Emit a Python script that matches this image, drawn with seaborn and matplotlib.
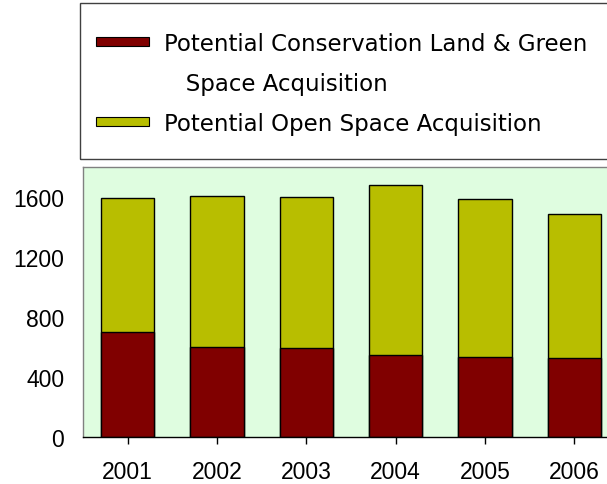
import matplotlib
matplotlib.use("Agg")
import matplotlib.pyplot as plt
import matplotlib.patches as mpatches
import seaborn as sns

years = ["2001", "2002", "2003", "2004", "2005", "2006"]
conservation = [700, 600, 595, 548, 531, 526]
open_space = [896, 1009, 1007, 1132, 1053, 958]
labels = ["Potential Conservation Land & Green", "   Space Acquisition",
          "Potential Open Space Acquisition"]

red = "#800000"
olive = "#B8BE00"

totals = [c + o for c, o in zip(conservation, open_space)]

sns.set_style("ticks")
plt.rcParams["font.family"] = ["Liberation Sans", "DejaVu Sans"]
plt.rcParams["text.color"] = "black"

fig = plt.figure(figsize=(6.07, 4.85), dpi=100)
ax = fig.add_axes([83 / 607, 1 - 437.7 / 485, 536 / 607, 269.7 / 485])
ax.set_facecolor("#DFFDE0")

# stacked bars: total (olive) behind, conservation (red) in front
sns.barplot(x=years, y=totals, color=olive, saturation=1, width=0.6,
            edgecolor="black", linewidth=1, ax=ax)
sns.barplot(x=years, y=conservation, color=red, saturation=1, width=0.6,
            edgecolor="black", linewidth=1, ax=ax)

ax.set_xlim(-0.5, 5.5)
ax.set_ylim(0, 1800)
ax.set_yticks([0, 400, 800, 1200, 1600])
ax.set_xlabel("")
ax.set_ylabel("")
ax.tick_params(axis="y", length=0, pad=13.5, labelsize=16.5, labelcolor="black")
ax.tick_params(axis="x", length=5, width=1, direction="out", pad=11.5,
               labelsize=16.5, labelcolor="black", color="black")
for s in ["left", "top", "right"]:
    ax.spines[s].set_color("#808080")
    ax.spines[s].set_linewidth(1)
ax.spines["bottom"].set_color("black")
ax.spines["bottom"].set_linewidth(1)

# legend box
fig.add_artist(mpatches.Rectangle((79.5 / 607, 1 - 160 / 485), 1, 156.5 / 485,
                                  transform=fig.transFigure, fill=False,
                                  edgecolor="#404040", linewidth=1))
h1 = mpatches.Patch(facecolor=red, edgecolor="black", linewidth=0.8)
blank = mpatches.Patch(facecolor="none", edgecolor="none")
h2 = mpatches.Patch(facecolor=olive, edgecolor="black", linewidth=0.8)
fig.legend([h1, blank, h2], labels, loc="upper left",
           bbox_to_anchor=(96 / 607, 1 - 33 / 485), frameon=False,
           prop={"family": "DejaVu Sans", "size": 16.5},
           handlelength=2.3, handleheight=0.22, handletextpad=0.68,
           labelspacing=0.74, borderpad=0, borderaxespad=0)

fig.savefig("out.png", dpi=100)
